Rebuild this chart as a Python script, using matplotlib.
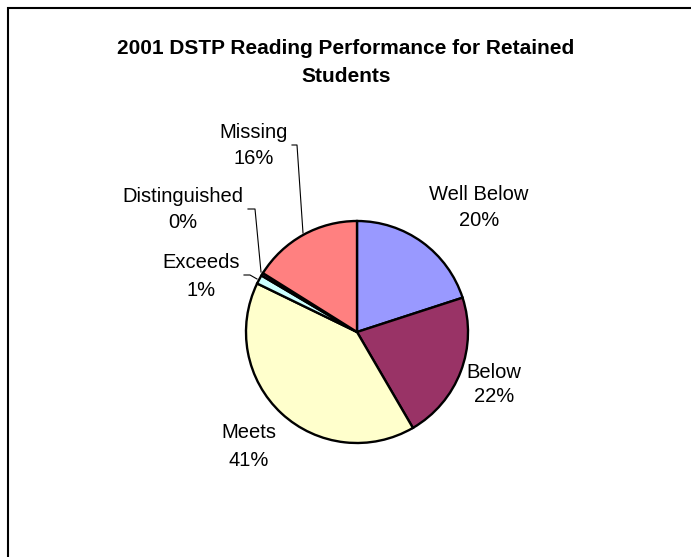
import matplotlib
matplotlib.use("Agg")
import matplotlib.pyplot as plt

plt.rcParams["font.family"] = ["Liberation Sans", "DejaVu Sans"]

# Data
categories = ["Well Below", "Below", "Meets", "Exceeds", "Distinguished", "Missing"]
shares = [20.0, 21.6, 40.6, 1.3, 0.4, 16.1]
colors = ["#9999FF", "#993366", "#FFFFCC", "#CCFFFF", "#660066", "#FF8080"]

W, H = 691, 557
fig = plt.figure(figsize=(W / 100, H / 100), dpi=100, facecolor="white")
ax = fig.add_axes([0, 0, 1, 1])

# Pie
ax.pie(
    shares,
    colors=colors,
    startangle=90,
    counterclock=False,
    center=(357, H - 332),
    radius=111,
    wedgeprops=dict(edgecolor="black", linewidth=1.7),
    frame=True,
)
ax.set_xlim(0, W)
ax.set_ylim(0, H)
ax.set_aspect("equal")
ax.axis("off")

# Frame (right and bottom edges fall outside the image)
ax.plot([8, 8, W + 5], [-5, H - 8, H - 8], color="black", lw=1.5, solid_joinstyle="miter")

# Title
ax.text(346, H - 48, "2001 DSTP Reading Performance for Retained", ha="center", va="center",
        fontsize=15, fontweight="bold")
ax.text(346, H - 76, "Students", ha="center", va="center", fontsize=15, fontweight="bold")

# Labels (x, y of name line, y of percent line)
label_pos = {
    "Well Below": (479, 194, 220),
    "Below": (494, 372, 397),
    "Meets": (249, 433, 461),
    "Exceeds": (201, 262, 290),
    "Distinguished": (183, 196, 223),
    "Missing": (254, 132, 158),
}
total = sum(shares)
for name, value in zip(categories, shares):
    x, y1, y2 = label_pos[name]
    ax.text(x, H - y1, name, ha="center", va="center", fontsize=14.5)
    ax.text(x, H - y2, f"{value / total * 100:.0f}%", ha="center", va="center", fontsize=14.5)

# Leader lines
leaders = [
    ([292, 297, 303], [145, 145, 233]),
    ([248, 255, 261], [209, 209, 272]),
    ([244, 250, 257], [275, 275, 279]),
]
for xs, ys in leaders:
    ax.plot(xs, [H - y for y in ys], color="black", lw=0.8)

fig.savefig("out.png", dpi=100, facecolor="white")
